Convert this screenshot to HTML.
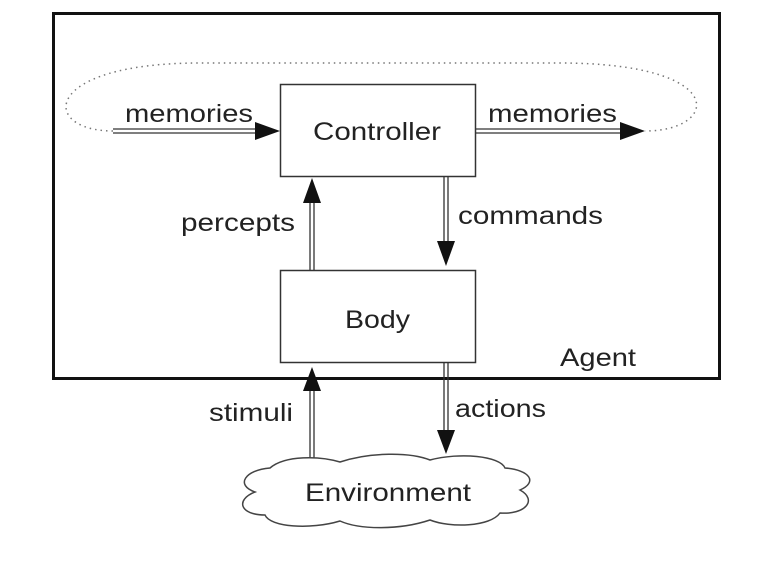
<!DOCTYPE html>
<html><head><style>
html,body{margin:0;padding:0;background:#fff;}
svg{display:block;}
text{font-family:"Liberation Sans",sans-serif;font-size:25px;fill:#222;}
</style></head><body>
<svg width="760" height="564" viewBox="0 0 760 564" xmlns="http://www.w3.org/2000/svg">
<rect x="53.5" y="13.5" width="666" height="365" fill="none" stroke="#111" stroke-width="3"/>
<path d="M113,131 C40,131 40,63 200,63 L560,63 C730,63 720,131 645,131" fill="none" stroke="#777" stroke-width="1.5" stroke-dasharray="1.5,4"/>
<rect x="280.5" y="84.5" width="195" height="92" fill="#fff" stroke="#333" stroke-width="1.5"/>
<rect x="280.5" y="270.5" width="195" height="92" fill="#fff" stroke="#333" stroke-width="1.5"/>
<text x="313" y="140" textLength="128" lengthAdjust="spacingAndGlyphs">Controller</text>
<text x="345" y="328" textLength="65" lengthAdjust="spacingAndGlyphs">Body</text>
<text x="560" y="366" textLength="76" lengthAdjust="spacingAndGlyphs">Agent</text>
<g stroke="#333" stroke-width="1.3" fill="none">
<line x1="113" y1="129" x2="258" y2="129"/><line x1="113" y1="133" x2="258" y2="133"/>
<line x1="475" y1="129" x2="622" y2="129"/><line x1="475" y1="133" x2="622" y2="133"/>
<line x1="310" y1="270" x2="310" y2="200"/><line x1="314" y1="270" x2="314" y2="200"/>
<line x1="444" y1="176" x2="444" y2="244"/><line x1="448" y1="176" x2="448" y2="244"/>
<line x1="310" y1="458" x2="310" y2="388"/><line x1="314" y1="458" x2="314" y2="388"/>
<line x1="444" y1="362" x2="444" y2="432"/><line x1="448" y1="362" x2="448" y2="432"/>
</g>
<g fill="#111">
<polygon points="255,122 280,131 255,140"/>
<polygon points="620,122 645,131 620,140"/>
<polygon points="303,203 312,178 321,203"/>
<polygon points="437,241 446,266 455,241"/>
<polygon points="303,391 312,367 321,391"/>
<polygon points="437,430 446,454 455,430"/>
</g>
<text x="125" y="122" textLength="128" lengthAdjust="spacingAndGlyphs">memories</text>
<text x="488" y="122" textLength="129" lengthAdjust="spacingAndGlyphs">memories</text>
<text x="181" y="231" textLength="114" lengthAdjust="spacingAndGlyphs">percepts</text>
<text x="458" y="224" textLength="145" lengthAdjust="spacingAndGlyphs">commands</text>
<text x="209" y="421" textLength="84" lengthAdjust="spacingAndGlyphs">stimuli</text>
<text x="455" y="417" textLength="91" lengthAdjust="spacingAndGlyphs">actions</text>
<path d="M270,468 C285,455 320,456 340,462 C370,452 410,452 430,460 C460,452 500,456 505,468 C530,470 538,482 520,490 C538,500 525,515 500,513 C490,527 450,528 430,520 C400,530 360,530 340,521 C310,530 270,527 265,515 C240,515 235,500 255,492 C235,485 245,470 270,468 Z" fill="#fff" stroke="#444" stroke-width="1.5"/>
<text x="305" y="501" textLength="166" lengthAdjust="spacingAndGlyphs">Environment</text>
</svg>
</body></html>
